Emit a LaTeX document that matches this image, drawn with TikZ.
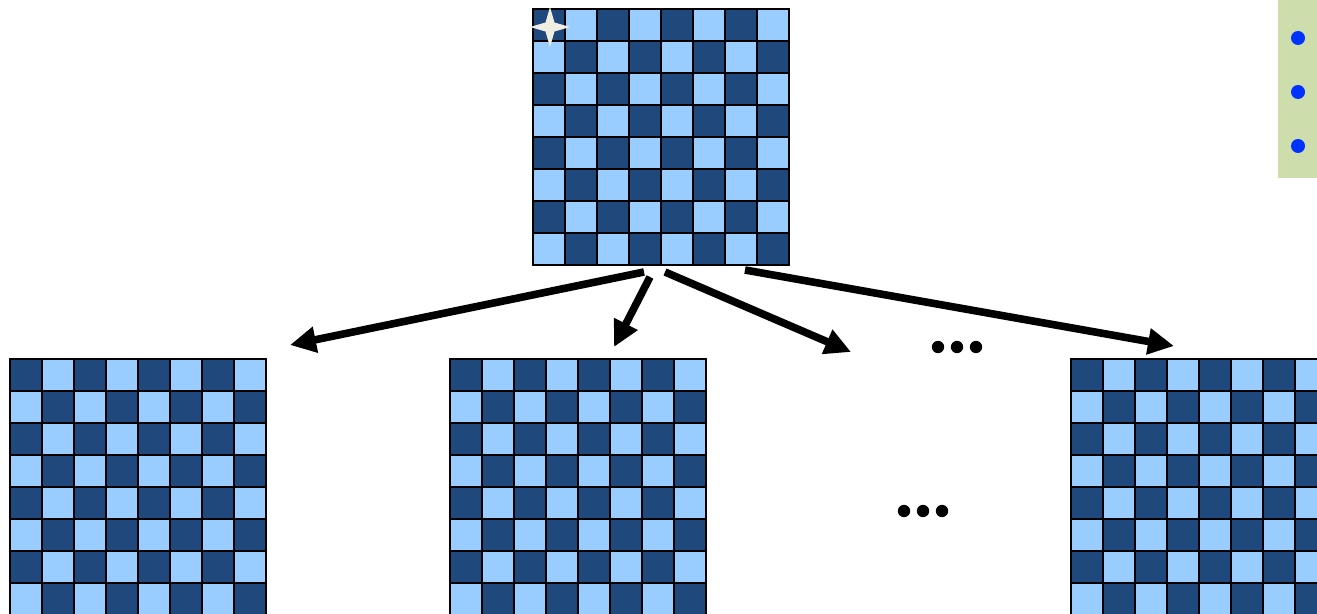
\documentclass[tikz,border=0pt]{standalone}
\usetikzlibrary{arrows.meta}
\definecolor{darksq}{RGB}{31,73,125}
\definecolor{lightsq}{RGB}{153,204,255}
\definecolor{notegreen}{RGB}{205,221,172}
\definecolor{dotblue}{RGB}{0,51,255}
\definecolor{sparkle}{RGB}{240,238,224}
\begin{document}
\begin{tikzpicture}
			[x=0.5pt,y=-0.5pt,
			square/.style={draw=black,line width=1pt},
			move/.style={-{Triangle[length=13pt,width=12.5pt]},line width=3.8pt},
			dot/.style={circle,fill,inner sep=0pt,minimum size=6.2pt},
			bullet/.style={circle,fill=dotblue,inner sep=0pt,minimum size=7pt}]
			\useasboundingbox (0,0) rectangle (1317,614);
			\clip (0,0) rectangle (1317,614);
			% the root position and three of its children
			\foreach \bx/\by in {533/9,10/359,450/359,1071/359}
			\foreach \r in {0,...,7}
			\foreach \c in {0,...,7} {
				\pgfmathtruncatemacro\parity{mod(\r+\c,2)}
				\ifnum\parity=0 \def\sq{darksq}\else\def\sq{lightsq}\fi
				\filldraw[square,fill=\sq] (\bx+\c*32,\by+\r*32) rectangle +(32,32);
			}
			\fill[sparkle] (550,27) +(0,-20) -- +(4.5,-4.5) -- +(20,0) -- +(4.5,4.5)
			-- +(0,20) -- +(-4.5,4.5) -- +(-20,0) -- +(-4.5,-4.5) -- cycle;
			% side note
			\fill[notegreen] (1278,0) rectangle (1317,178);
			\node[bullet] (n1) at (1298,38) {};
			\node[bullet] (n2) at (1298,92) {};
			\node[bullet] (n3) at (1298,146) {};
			% moves
			\coordinate (s1) at (644,272);
			\coordinate (s2) at (650,277);
			\coordinate (s3) at (665,272);
			\coordinate (s4) at (745,270);
			\coordinate (e1) at (290,345);
			\coordinate (e2) at (614,347);
			\coordinate (e3) at (851,352);
			\coordinate (e4) at (1174,346);
			\path
			(s1) edge[move] (e1)
			(s2) edge[move] (e2)
			(s3) edge[move] (e3)
			(s4) edge[move] (e4);
			% more moves and more children
			\node[dot] (a1) at (938,347) {};
			\node[dot] (a2) at (957,347) {};
			\node[dot] (a3) at (976,347) {};
			\node[dot] (b1) at (904,511) {};
			\node[dot] (b2) at (923,511) {};
			\node[dot] (b3) at (942,511) {};
		\end{tikzpicture}
\end{document}
